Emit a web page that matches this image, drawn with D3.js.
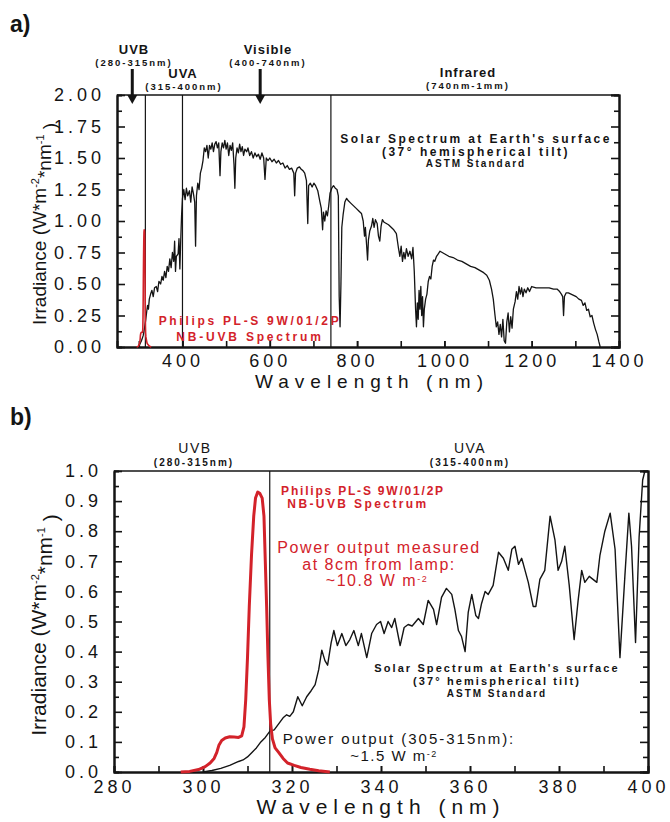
<!DOCTYPE html>
<html lang="en">
<meta charset="utf-8">
<head>
    <script src="https://d3js.org/d3.v7.min.js"></script>
    <style>
        body { margin: 0; background: #fff; }
        text { font-family: "Liberation Sans", Arial, sans-serif; }
    </style>
</head>
<body>
<script>
    // solar spectrum at earth's surface, ASTM standard, panel a: [nm, W m-2 nm-1]
    var solarA = [
        [298,0.0],[302,0.02],[306,0.05],[310,0.09],[313,0.15],[316,0.22],[318,0.28],[320,0.33],[322,0.30],[324,0.38],
        [327,0.42],[330,0.45],[333,0.40],[336,0.47],[340,0.48],[343,0.44],[346,0.52],[350,0.50],[353,0.56],[356,0.53],
        [359,0.60],[362,0.55],[365,0.64],[368,0.60],[371,0.70],[374,0.63],[377,0.75],[380,0.68],[382,0.84],[384,0.60],
        [386,0.72],[390,0.74],[392,0.86],[394,0.62],[396,0.85],[398,1.05],[400,1.18],[403,1.25],[406,1.17],[409,1.26],
        [412,1.20],[416,1.24],[419,1.15],[422,1.27],[425,1.22],[428,1.15],[430,0.80],[432,1.20],[435,1.30],[438,1.25],
        [441,1.38],[444,1.42],[447,1.48],[450,1.58],[453,1.55],[456,1.60],[459,1.50],[462,1.60],[465,1.57],[468,1.62],
        [471,1.55],[474,1.61],[477,1.63],[480,1.58],[483,1.62],[486,1.36],[488,1.55],[491,1.62],[494,1.58],[497,1.64],
        [500,1.57],[503,1.62],[506,1.52],[509,1.60],[512,1.56],[515,1.62],[518,1.45],[520,1.26],[522,1.50],[525,1.58],
        [528,1.54],[531,1.61],[534,1.55],[537,1.59],[540,1.52],[543,1.57],[547,1.55],[550,1.58],[554,1.52],[558,1.55],
        [562,1.50],[566,1.54],[570,1.51],[574,1.53],[578,1.49],[582,1.54],[586,1.50],[589,1.33],[592,1.50],[596,1.48],
        [600,1.50],[605,1.47],[610,1.49],[615,1.46],[620,1.48],[625,1.45],[630,1.46],[635,1.42],[640,1.44],[645,1.41],
        [650,1.42],[655,1.38],[657,1.20],[659,1.38],[663,1.42],[668,1.43],[672,1.41],[676,1.40],[680,1.38],[684,1.32],
        [687,0.98],[689,1.28],[693,1.30],[697,1.27],[701,1.30],[705,1.28],[710,1.24],[715,1.15],[718,1.10],[721,0.93],
        [723,1.07],[726,1.00],[729,1.08],[732,1.04],[735,1.12],[738,1.22],[742,1.26],[746,1.28],[750,1.26],[754,1.25],
        [757,1.20],[759,0.40],[761,0.16],[763,0.50],[765,0.95],[768,1.05],[772,1.15],[776,1.18],[780,1.16],[786,1.14],
        [792,1.12],[798,1.10],[804,1.08],[810,1.06],[814,1.00],[817,0.88],[819,0.95],[822,0.80],[824,0.69],[826,0.85],
        [829,0.92],[833,0.96],[836,1.02],[839,0.95],[842,1.01],[846,0.98],[849,0.88],[852,0.84],[855,0.96],[858,1.01],
        [862,0.99],[867,0.98],[872,0.97],[878,0.95],[884,0.93],[890,0.90],[895,0.78],[898,0.72],[901,0.80],[904,0.68],
        [907,0.75],[910,0.70],[913,0.78],[917,0.72],[921,0.76],[925,0.70],[928,0.79],[931,0.60],[934,0.30],[936,0.16],
        [938,0.35],[940,0.22],[942,0.45],[944,0.30],[946,0.48],[948,0.25],[950,0.40],[952,0.16],[954,0.30],[957,0.38],
        [960,0.42],[963,0.52],[966,0.56],[969,0.54],[972,0.64],[975,0.69],[978,0.68],[982,0.72],[986,0.74],[990,0.76],
        [995,0.75],[1000,0.74],[1005,0.73],[1010,0.72],[1020,0.71],[1030,0.69],[1040,0.68],[1050,0.66],[1060,0.64],[1070,0.63],
        [1080,0.61],[1090,0.59],[1097,0.57],[1103,0.53],[1108,0.46],[1112,0.38],[1116,0.25],[1119,0.16],[1122,0.20],[1125,0.10],
        [1128,0.18],[1131,0.08],[1134,0.22],[1137,0.05],[1140,0.03],[1143,0.20],[1146,0.27],[1149,0.12],[1152,0.24],[1155,0.15],
        [1158,0.30],[1162,0.36],[1165,0.44],[1168,0.38],[1171,0.48],[1174,0.42],[1177,0.47],[1180,0.40],[1183,0.46],[1187,0.43],
        [1191,0.47],[1195,0.44],[1200,0.48],[1210,0.47],[1220,0.47],[1230,0.47],[1240,0.47],[1250,0.46],[1258,0.46],[1264,0.44],
        [1268,0.42],[1271,0.40],[1273,0.25],[1275,0.40],[1279,0.43],[1284,0.43],[1290,0.42],[1296,0.41],[1302,0.40],[1308,0.38],
        [1314,0.37],[1318,0.33],[1322,0.35],[1326,0.29],[1330,0.30],[1334,0.24],[1338,0.25],[1342,0.19],[1346,0.14],[1350,0.10],
        [1354,0.04],[1357,0.0]
    ];

    // same spectrum, zoomed on 300-400 nm (panel b)
    var solarB = [
        [300,0.0],[302,0.005],[304,0.012],[306,0.022],[308,0.035],[309,0.04],[310,0.05],[311,0.065],[312,0.08],[313,0.10],
        [314,0.115],[315,0.135],[316,0.14],[317,0.16],[318,0.18],[318.8,0.19],[319.5,0.185],[320.3,0.2],[321.3,0.25],[322.3,0.22],
        [323.3,0.25],[324.3,0.27],[325.2,0.29],[326,0.34],[326.7,0.405],[327.4,0.37],[328,0.355],[328.8,0.43],[329.4,0.47],[330.2,0.42],
        [331.2,0.46],[332.1,0.42],[333,0.44],[333.9,0.47],[334.9,0.42],[335.6,0.46],[336.8,0.38],[337.9,0.46],[339,0.49],[339.9,0.5],
        [340.7,0.46],[341.6,0.5],[342.4,0.48],[343.1,0.51],[344.3,0.42],[345.2,0.48],[346.1,0.49],[347,0.485],[348.4,0.51],[349.5,0.49],
        [350.6,0.57],[351.8,0.54],[352.5,0.49],[353.6,0.58],[354.7,0.61],[355.9,0.59],[356.6,0.54],[357.4,0.47],[358.1,0.45],[358.9,0.40],
        [359.6,0.53],[360.4,0.59],[361.3,0.52],[361.9,0.51],[362.6,0.56],[363.4,0.60],[364.1,0.59],[365.2,0.62],[366.4,0.73],[367.5,0.71],
        [368.6,0.67],[369.4,0.74],[370.1,0.75],[370.9,0.69],[371.6,0.71],[372,0.69],[373.1,0.63],[374.2,0.55],[374.8,0.55],[375.7,0.64],
        [376.8,0.67],[378,0.85],[379.1,0.77],[379.8,0.67],[380.6,0.70],[381.3,0.75],[382.3,0.62],[383.4,0.44],[384.3,0.57],[385.1,0.67],
        [385.8,0.63],[386.8,0.65],[388.5,0.63],[389.2,0.72],[390.3,0.80],[391.5,0.86],[392.6,0.74],[393.7,0.38],[394.8,0.65],[395.7,0.86],
        [396.3,0.75],[397.2,0.43],[398,0.78],[398.8,0.97],[399.3,1.0]
    ];

    // Philips PL-S 9W/01/2P NB-UVB lamp spectrum
    var lamp = [
        [295,0.0],[297,0.002],[299,0.008],[300.5,0.018],[301.6,0.03],[302.5,0.045],[303.1,0.065],[303.6,0.09],[304.2,0.105],[305,0.113],
        [306,0.117],[307,0.116],[308,0.115],[308.7,0.12],[309.2,0.15],[309.6,0.24],[310,0.38],[310.4,0.55],[310.9,0.72],[311.4,0.85],
        [311.8,0.91],[312.3,0.93],[312.8,0.925],[313.3,0.91],[313.7,0.85],[314,0.70],[314.3,0.55],[314.6,0.38],[314.9,0.24],[315.2,0.16],
        [315.6,0.11],[316.2,0.08],[317,0.065],[318,0.045],[319,0.03],[320.5,0.022],[322,0.015],[324,0.009],[326,0.004],[328.5,0.0]
    ];

    var bandEdgesA = [315, 400, 740];
    var bandEdgesB = [315];
    var arrowsA = [285, 578];
    var xTicksA = [400, 600, 800, 1000, 1200, 1400];
    var xMinorA = [300, 400, 500, 600, 700, 800, 900, 1000, 1100, 1200, 1300];
    var yTicksA = [0, 0.25, 0.5, 0.75, 1, 1.25, 1.5, 1.75, 2];
    var xTicksB = [280, 300, 320, 340, 360, 380, 400];
    var xMinorB = [290, 300, 310, 320, 330, 340, 350, 360, 370, 380, 390];
    var yTicksB = [0, 0.1, 0.2, 0.3, 0.4, 0.5, 0.6, 0.7, 0.8, 0.9, 1.0];

    var red = "#d3222a";
    var ink = "#141414";

    var svg = d3.select("body").append("svg")
        .attr("width", 670)
        .attr("height", 822);

    function panel(o) {
        var g = svg.append("g").attr("transform", "translate(" + o.left + "," + o.top + ")");
        var w = o.width, h = o.height;
        var x = d3.scaleLinear().domain(o.xDomain).range([0, w]);
        var y = d3.scaleLinear().domain(o.yDomain).range([h, 0]);

        // minor ticks, all inward
        g.append("g")
            .attr("transform", "translate(0," + h + ")")
            .call(d3.axisBottom(x).tickValues(o.xMinor).tickSize(-6).tickFormat(""));
        g.append("g")
            .call(d3.axisLeft(y).tickValues(o.yMinor).tickSize(-5).tickFormat(""));
        g.append("g")
            .attr("transform", "translate(" + w + ",0)")
            .call(d3.axisRight(y).tickValues(o.yMinor).tickSize(-5).tickFormat(""));
        g.append("g")
            .attr("transform", "translate(" + w + ",0)")
            .call(d3.axisRight(y).tickValues(o.yTicks).tickSize(-8).tickFormat(""));

        g.append("g")
            .attr("transform", "translate(0," + h + ")")
            .call(d3.axisBottom(x).tickValues(o.xTicks).tickSize(-6).tickSizeOuter(0)
                .tickPadding(o.xPad).tickFormat(d3.format("d")));
        g.append("g")
            .call(d3.axisLeft(y).tickValues(o.yTicks).tickSize(-8).tickSizeOuter(0)
                .tickPadding(o.yPad).tickFormat(d3.format(o.yFormat)));

        g.selectAll(".domain").attr("stroke", ink).attr("stroke-width", 2);
        g.selectAll(".tick line").attr("stroke", ink).attr("stroke-width", 1.6);
        g.selectAll(".tick text")
            .attr("fill", ink)
            .style("font-size", o.tickFont + "px")
            .style("letter-spacing", "4px");

        // top edge of the frame
        g.append("line")
            .attr("x1", 0).attr("x2", w).attr("y1", 0).attr("y2", 0)
            .attr("stroke", ink).attr("stroke-width", 1.6);

        // band edges
        g.selectAll(".edge")
            .data(o.edges)
            .enter()
            .append("line")
            .attr("class", "edge")
            .attr("x1", function(d) { return x(d) })
            .attr("x2", function(d) { return x(d) })
            .attr("y1", 0).attr("y2", h)
            .attr("stroke", ink).attr("stroke-width", 1.2);

        var line = d3.line()
            .x(function(d) { return x(d[0]) })
            .y(function(d) { return y(Math.min(d[1], o.yDomain[1])) });

        g.append("path")
            .datum(o.solar)
            .attr("fill", "none")
            .attr("stroke", ink)
            .attr("stroke-width", o.solarWidth)
            .attr("stroke-linejoin", "round")
            .attr("d", line);

        g.append("path")
            .datum(o.lamp)
            .attr("fill", "none")
            .attr("stroke", red)
            .attr("stroke-width", o.lampWidth)
            .attr("stroke-linejoin", "round")
            .attr("d", line);

        // axis titles
        var yl = svg.append("text")
            .attr("transform", "translate(46," + o.yTitleY + ") rotate(-90)")
            .attr("text-anchor", "middle")
            .attr("fill", ink)
            .style("font-size", o.titleFont + "px");
        yl.append("tspan").text("Irradiance (W*m");
        yl.append("tspan").attr("dy", "-0.6em").style("font-size", "11px").text("-2");
        yl.append("tspan").attr("dy", "0.6em").text("*nm");
        yl.append("tspan").attr("dy", "-0.6em").style("font-size", "11px").text("-1");
        yl.append("tspan").attr("dy", "0.6em").text(" )");

        svg.append("text")
            .attr("x", o.xTitleX).attr("y", o.xTitleY)
            .attr("text-anchor", "middle")
            .attr("fill", ink)
            .style("font-size", o.titleFont + "px")
            .style("letter-spacing", "6px")
            .text("Wavelength (nm)");

        return { g: g, x: x, y: y };
    }

    function label(x, y, txt, size, opts) {
        opts = opts || {};
        return svg.append("text")
            .attr("x", x).attr("y", y)
            .attr("text-anchor", opts.anchor || "middle")
            .attr("fill", opts.color || ink)
            .style("font-size", size + "px")
            .style("font-weight", opts.weight || "normal")
            .style("letter-spacing", (opts.ls || 0) + "px")
            .text(txt);
    }

    // ---------- panel a ----------
    var a = panel({
        left: 117, top: 95, width: 502, height: 252,
        xDomain: [250, 1400], yDomain: [0, 2],
        xTicks: xTicksA, xMinor: xMinorA,
        yTicks: yTicksA, yMinor: d3.range(0.125, 2, 0.25),
        yFormat: ".2f", xPad: 7, yPad: 12, tickFont: 18,
        edges: bandEdgesA, solar: solarA, lamp: lamp,
        solarWidth: 1.3, lampWidth: 1.6,
        yTitleY: 224, titleFont: 19, xTitleX: 372, xTitleY: 388
    });

    label(10, 32, "a)", 23, { anchor: "start", weight: "bold" });

    label(134, 54, "UVB", 13, { weight: "bold", ls: 1 });
    label(134, 66, "(280-315nm)", 9.5, { weight: "bold", ls: 2 });
    label(268, 54, "Visible", 13, { weight: "bold", ls: 1 });
    label(268, 66, "(400-740nm)", 9.5, { weight: "bold", ls: 2 });
    label(183, 78, "UVA", 13, { weight: "bold", ls: 1 });
    label(184, 90, "(315-400nm)", 9.5, { weight: "bold", ls: 2 });
    label(468, 77, "Infrared", 13, { weight: "bold", ls: 1 });
    label(468, 89, "(740nm-1mm)", 9.5, { weight: "bold", ls: 2 });

    // band arrows
    arrowsA.forEach(function(nm) {
        var ax = 117 + a.x(nm);
        svg.append("line")
            .attr("x1", ax).attr("x2", ax)
            .attr("y1", 69).attr("y2", 96)
            .attr("stroke", ink).attr("stroke-width", 3);
        svg.append("path")
            .attr("d", "M" + (ax - 5) + ",95 L" + (ax + 5) + ",95 L" + ax + ",104 Z")
            .attr("fill", ink);
    });

    label(476, 143, "Solar Spectrum at Earth's surface", 12, { weight: "bold", ls: 2.4 });
    label(476, 156, "(37° hemispherical tilt)", 12, { weight: "bold", ls: 2.5 });
    label(476, 167, "ASTM Standard", 10, { weight: "bold", ls: 2 });

    label(250, 325, "Philips PL-S 9W/01/2P", 12, { weight: "bold", ls: 2.7, color: red });
    label(250, 341, "NB-UVB Spectrum", 12, { weight: "bold", ls: 2.8, color: red });

    // ---------- panel b ----------
    var b = panel({
        left: 114, top: 471, width: 534, height: 301,
        xDomain: [280, 400], yDomain: [0, 1],
        xTicks: xTicksB, xMinor: xMinorB,
        yTicks: yTicksB, yMinor: d3.range(0.05, 1, 0.1),
        yFormat: ".1f", xPad: 8, yPad: 12, tickFont: 18,
        edges: bandEdgesB, solar: solarB, lamp: lamp,
        solarWidth: 1.4, lampWidth: 3,
        yTitleY: 625, titleFont: 21, xTitleX: 381, xTitleY: 814
    });

    label(10, 425, "b)", 23, { anchor: "start", weight: "bold" });

    label(195, 453, "UVB", 14, { ls: 1.5 });
    label(194, 466, "(280-315nm)", 10, { weight: "bold", ls: 2 });
    label(470, 453, "UVA", 14, { ls: 1.5 });
    label(470, 466, "(315-400nm)", 10, { weight: "bold", ls: 2 });

    label(363, 495, "Philips PL-S 9W/01/2P", 12, { weight: "bold", ls: 1.8, color: red });
    label(358, 508, "NB-UVB Spectrum", 12, { weight: "bold", ls: 2.4, color: red });

    label(379, 553, "Power output measured", 16, { ls: 1.6, color: red });
    label(379, 570, "at 8cm from lamp:", 16, { ls: 1.5, color: red });
    var pw = label(377, 586, "~10.8 W m", 16, { ls: 1.5, color: red });
    pw.append("tspan").attr("dy", "-0.45em").style("font-size", "9px").text("-2");

    label(497, 672, "Solar Spectrum at Earth's surface", 11, { weight: "bold", ls: 2.1 });
    label(497, 685, "(37° hemispherical tilt)", 11, { weight: "bold", ls: 2.1 });
    label(497, 697, "ASTM Standard", 10, { weight: "bold", ls: 2 });

    label(399, 744, "Power output (305-315nm):", 15, { ls: 2 });
    var po = label(394, 761, "~1.5 W m", 15, { ls: 1.5 });
    po.append("tspan").attr("dy", "-0.45em").style("font-size", "9px").text("-2");
</script>
</body>
</html>
